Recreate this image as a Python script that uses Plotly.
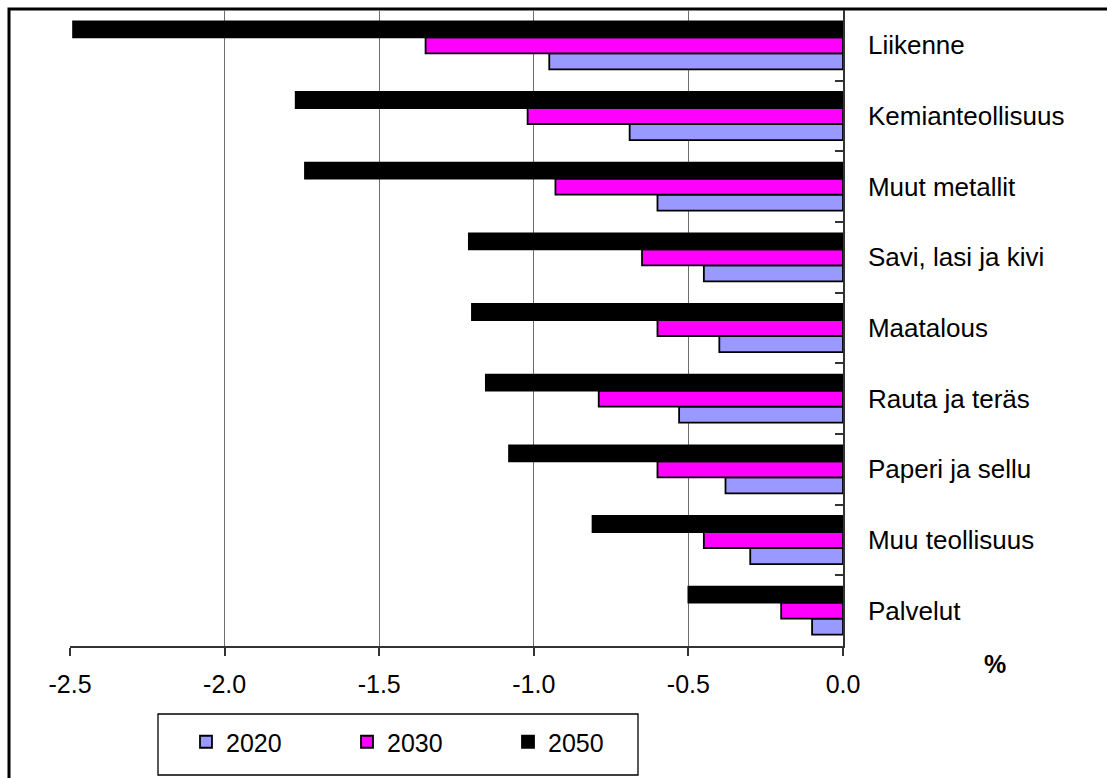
import plotly.graph_objects as go

# Sectors, listed from top to bottom of the chart
sectors = [
    "Liikenne",
    "Kemianteollisuus",
    "Muut metallit",
    "Savi, lasi ja kivi",
    "Maatalous",
    "Rauta ja teräs",
    "Paperi ja sellu",
    "Muu teollisuus",
    "Palvelut",
]

# Change (%) by year
v2020 = [-0.95, -0.69, -0.60, -0.45, -0.40, -0.53, -0.38, -0.30, -0.10]
v2030 = [-1.35, -1.02, -0.93, -0.65, -0.60, -0.79, -0.60, -0.45, -0.20]
v2050 = [-2.49, -1.77, -1.74, -1.21, -1.20, -1.155, -1.08, -0.81, -0.50]

years = ["2020", "2030", "2050"]
series = [v2020, v2030, v2050]
colors = ["#9999FF", "#FF00FF", "#000000"]

x_ticks = [-2.5, -2.0, -1.5, -1.0, -0.5, 0.0]

FONT = "Liberation Sans, Arial, sans-serif"

# Plot-area geometry in pixels (used for shapes placed in paper coords)
W, H = 1107, 778
ML, MR, MT, MB = 70, 264, 10, 132
PW, PH = W - ML - MR, H - MT - MB


def px_x(p):
    return (p - ML) / PW


def px_y(p):
    return (H - MB - p) / PH


fig = go.Figure()
for name, vals, col in zip(years, series, colors):
    fig.add_trace(go.Bar(
        x=vals,
        y=sectors,
        orientation="h",
        name=name,
        marker=dict(color=col, line=dict(color="#000000", width=1.8)),
    ))

fig.update_layout(
    width=W,
    height=H,
    margin=dict(l=ML, r=MR, t=MT, b=MB),
    paper_bgcolor="white",
    plot_bgcolor="white",
    barmode="group",
    bargap=0.32,
    bargroupgap=0,
    font=dict(family=FONT, size=25, color="black"),
    showlegend=True,
    legend=dict(
        orientation="h",
        x=px_x(186),
        xanchor="left",
        y=px_y(742),
        yanchor="middle",
        bgcolor="rgba(0,0,0,0)",
        borderwidth=0,
        entrywidth=116,
        entrywidthmode="pixels",
        font=dict(family=FONT, size=25, color="black"),
        traceorder="normal",
    ),
    xaxis=dict(
        range=[-2.5, 0],
        tickvals=x_ticks,
        ticktext=[f"{t:.1f}" for t in x_ticks],
        showgrid=True,
        gridcolor="#6e6e6e",
        gridwidth=1.2,
        zeroline=False,
        showline=True,
        linecolor="#333333",
        linewidth=1.5,
        ticks="outside",
        ticklen=8,
        tickcolor="#333333",
        tickwidth=1.5,
        ticklabelstandoff=7,
        tickfont=dict(family=FONT, size=25, color="black"),
        fixedrange=True,
    ),
    yaxis=dict(
        type="category",
        categoryorder="array",
        categoryarray=sectors[::-1],
        side="right",
        showgrid=False,
        zeroline=False,
        showline=True,
        linecolor="#333333",
        linewidth=1.5,
        ticks="inside",
        tickson="boundaries",
        ticklen=8,
        tickcolor="#333333",
        tickwidth=1.5,
        ticklabelstandoff=18,
        tickfont=dict(family=FONT, size=26, color="black"),
        fixedrange=True,
    ),
    shapes=[
        # outer chart frame
        dict(type="rect", xref="paper", yref="paper",
             x0=px_x(9), x1=px_x(1120), y0=px_y(790), y1=px_y(9),
             line=dict(color="black", width=3), layer="below"),
        # legend box
        dict(type="rect", xref="paper", yref="paper",
             x0=px_x(158), x1=px_x(638), y0=px_y(775), y1=px_y(714),
             line=dict(color="black", width=1.3), layer="below"),
    ],
    annotations=[
        dict(text="<b>%</b>", xref="paper", yref="paper",
             x=px_x(995), y=px_y(664), xanchor="center", yanchor="middle",
             showarrow=False, font=dict(family=FONT, size=25, color="black")),
    ],
)

fig.write_html("out.html")
